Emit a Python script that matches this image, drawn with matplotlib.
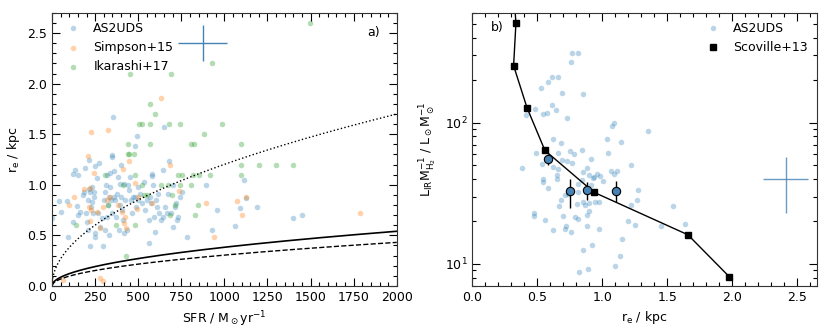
import numpy as np
import matplotlib
matplotlib.use("Agg")
import matplotlib.pyplot as plt
from matplotlib.ticker import MultipleLocator

# panel a) AS2UDS
sfr_as2 = [0, 42, 50, 89, 95, 123, 133, 121, 148, 145, 149, 164, 180, 183, 193, 199, 203, 206, 208, 212,
           214, 218, 222, 226, 232, 232, 237, 241, 245, 247, 247, 251, 259, 270, 264,
           280, 290, 293, 299, 309, 309, 315, 318, 318, 322, 328, 328, 334, 338, 342, 347, 347, 349, 353,
           357, 361, 367, 372, 376, 380, 386, 392, 396, 400, 403, 405, 411, 415, 419, 425, 434, 438, 444,
           454, 458, 463, 469, 482, 482, 488, 492, 496, 501,
           511, 521, 531, 540, 550, 561, 565, 569, 573, 581, 581, 585, 592, 598, 604, 611, 617, 623, 631,
           641, 646, 650, 656, 666, 671, 681, 689, 701, 704, 714, 720, 724, 733, 743, 752, 781,
           895, 926, 958, 1063, 1088, 1115, 1125, 1192, 1398, 1452]
re_as2 = [0.67, 0.84, 0.73, 0.84, 0.48, 0.63, 1.15, 1.11, 1.10, 0.79, 0.70, 0.73, 0.90, 0.93, 1.17, 0.72, 0.63, 0.55, 0.85, 1.25,
          0.96, 0.39, 0.93, 0.78, 0.98, 0.83, 0.72, 0.88, 0.93, 1.19, 0.48, 0.52, 1.07, 1.22, 0.72,
          0.58, 0.67, 0.39, 0.85, 0.93, 0.55, 1.00, 1.10, 0.68, 0.80, 0.50, 0.88, 1.12, 0.98, 0.85, 1.29, 1.27, 0.72, 1.67,
          0.88, 1.14, 0.85, 0.68, 0.91, 1.08, 0.55, 0.80, 1.01, 1.20, 0.88, 0.75, 0.65, 0.52, 1.01, 0.85, 0.55, 1.00, 0.95,
          1.08, 0.85, 0.72, 0.88, 1.38, 0.88, 0.78, 1.48, 0.98, 0.85,
          0.91, 0.82, 1.03, 0.75, 0.85, 0.42, 0.65, 0.88, 0.82, 1.11, 1.09, 1.00, 0.68, 0.53, 0.85, 0.78, 0.91, 0.72, 0.65,
          1.15, 0.68, 1.57, 0.78, 0.72, 0.91, 1.24, 0.72, 0.58, 1.00, 0.78, 0.82, 0.65, 0.68, 0.88, 0.93, 0.48,
          1.00, 0.55, 0.75, 0.59, 0.77, 1.05, 0.87, 0.78, 0.67, 0.70]

# Simpson+15
sfr_sim = [634, 322, 224, 208, 449, 245, 411, 684, 480, 125, 96, 187, 218, 316, 334, 212, 228, 260, 293, 380,
           407, 425, 415, 428, 280, 222, 498, 494, 579, 737, 895, 1076, 1101, 1126, 937, 1784, 276, 295, 62]
re_sim = [1.86, 1.54, 1.52, 1.28, 1.24, 1.12, 1.16, 1.20, 1.02, 0.88, 0.80, 0.96, 0.97, 0.85, 0.88, 0.78, 0.75, 0.73, 0.78, 0.80,
          0.73, 0.68, 0.62, 0.57, 0.57, 0.64, 0.88, 0.76, 0.82, 0.94, 0.82, 0.84, 0.70, 0.88, 0.48, 0.72, 0.08, 0.05, 0.06]

# Ikarashi+17
sfr_ika = [1499, 930, 453, 690, 571, 600, 503, 521, 571, 681, 742, 989, 879,
           442, 571, 806, 821, 1099, 438, 446, 473,
           305, 480, 729, 752, 820, 852, 918, 1099, 1099, 1200, 1298, 1398,
           411, 521, 633, 671, 742, 808, 532, 552, 698, 322, 712, 849, 684, 829, 141, 372, 480, 430]
re_ika = [2.60, 2.20, 2.10, 2.10, 1.80, 1.70, 1.60, 1.60, 1.60, 1.60, 1.60, 1.60, 1.50,
          1.40, 1.40, 1.40, 1.40, 1.40, 1.30, 1.30, 1.30,
          1.10, 1.10, 1.10, 1.10, 1.10, 1.10, 1.10, 1.10, 1.20, 1.20, 1.20, 1.20,
          1.00, 1.00, 1.00, 1.00, 1.00, 1.00, 0.90, 0.90, 0.90, 0.80, 0.80, 0.80, 0.70, 0.70, 0.60, 0.60, 0.60, 0.30]

# model curves: r_e at SFR = 2000 (r ~ SFR^0.5)
r2000_solid = 0.54
r2000_dashed = 0.43
r2000_dotted = 1.70

# typical error, panel a
err_a = (874, 2.40, 143, 0.18)

# panel b) AS2UDS
re_b = [0.769, 0.815, 0.756, 0.854, 0.615, 0.659, 0.582, 0.526, 0.692, 0.610, 0.479, 0.641, 0.572, 0.546, 0.415,
        0.731, 1.072, 1.092, 1.351, 1.036, 0.623, 0.685, 1.146, 0.490, 0.659, 0.751, 0.782, 0.846, 1.044, 0.910,
        0.536, 0.692, 0.731, 0.769, 1.223, 0.385, 0.623, 0.656, 0.879, 0.851, 1.064, 1.110, 1.090, 0.546, 0.649,
        0.654, 0.544, 0.579, 0.936, 0.928, 0.897, 0.962, 0.985, 1.005, 0.844, 0.915, 0.810, 0.879, 0.710, 0.736,
        0.813, 0.926, 1.277, 0.679, 0.854, 0.808, 0.864, 0.895, 0.941, 0.974, 0.667, 1.221, 1.264, 1.544, 0.882,
        0.900, 0.474, 0.474, 0.697, 0.792, 0.810, 0.556, 1.195, 1.249, 1.636, 1.451, 0.723, 0.710, 0.885, 0.974,
        0.620, 0.759, 1.154, 0.923, 0.849, 1.133, 1.095, 0.892, 0.823]
lir_b = [310, 314, 268, 159, 210, 210, 196, 176, 163, 134, 126, 124, 117, 115, 113,
         108, 94.6, 98.9, 87.7, 77, 77, 72, 73, 61, 61.6, 62.7, 60.5, 64, 61, 55.8,
         51, 54.3, 53.7, 52.3, 50.4, 47.7, 49, 47.4, 48, 44.9, 45.4, 45.9, 43.2, 40.1, 42.8,
         39.7, 37.8, 34.8, 41.4, 40.7, 42.8, 43.7, 42.3, 38.4, 39.2, 36.1, 36.9, 34.6, 30.8, 31.4,
         32.2, 31.7, 33.3, 28.3, 27.7, 26.8, 26.2, 27.1, 27.7, 27.3, 25.9, 26.2, 28.6, 25.9, 22.3,
         23.8, 22.8, 22.0, 21.8, 21.5, 20.8, 20.5, 20.3, 19.0, 19.3, 18.7, 18.5, 17.8, 18.7, 17.7,
         17.3, 16.9, 15.0, 13.7, 12.6, 11.3, 9.68, 9.17, 8.73]

# binned medians
re_med = [0.579, 0.751, 0.885, 1.108]
lir_med = [55.2, 33.0, 33.2, 33.0]
lir_lo = [5, 7.9, 4.6, 5.3]
lir_hi = [5, 7.3, 4.8, 5.5]

# Scoville+13
re_sco = [0.31, 0.336, 0.318, 0.421, 0.559, 0.936, 1.659, 1.977]
lir_sco = [1100, 509, 254, 128, 63.7, 32.2, 16.1, 8.13]

# typical error, panel b
err_b = (2.41, 39.8, 0.172, 16.8, 17.0)

plt.rcParams['font.size'] = 9
plt.rcParams['mathtext.default'] = 'regular'
blue = '#4682b4'

fig = plt.figure(figsize=(8.3, 3.32), dpi=100)
ax1 = fig.add_axes([0.0627, 0.139, 0.4153, 0.822])
ax2 = fig.add_axes([0.569, 0.139, 0.415, 0.822])

ax1.scatter(sfr_as2, re_as2, s=16, color='tab:blue', alpha=0.3, lw=0, label='AS2UDS')
ax1.scatter(sfr_sim, re_sim, s=16, color='tab:orange', alpha=0.35, lw=0, label='Simpson+15')
ax1.scatter(sfr_ika, re_ika, s=16, color='tab:green', alpha=0.35, lw=0, label='Ikarashi+17')

x = np.linspace(0, 2000, 500)
ax1.plot(x, r2000_solid * np.sqrt(x / 2000), 'k-', lw=1.2)
ax1.plot(x, r2000_dashed * np.sqrt(x / 2000), 'k--', lw=1.0)
ax1.plot(x, r2000_dotted * np.sqrt(x / 2000), 'k:', lw=1.0)

ax1.errorbar(err_a[0], err_a[1], xerr=err_a[2], yerr=err_a[3], color=blue, lw=1.0)
ax1.text(1830, 2.47, 'a)', fontsize=9)

ax1.set_xlim(0, 2000)
ax1.set_ylim(0, 2.7)
ax1.xaxis.set_major_locator(MultipleLocator(250))
ax1.xaxis.set_minor_locator(MultipleLocator(50))
ax1.yaxis.set_major_locator(MultipleLocator(0.5))
ax1.yaxis.set_minor_locator(MultipleLocator(0.1))
ax1.set_xlabel(r'SFR / M$_\odot$yr$^{-1}$')
ax1.set_ylabel(r'r$_e$ / kpc')
ax1.legend(loc='upper left', frameon=False, handletextpad=0.6, borderaxespad=0.3)

ax2.scatter(re_b, lir_b, s=16, color='tab:blue', alpha=0.3, lw=0, label='AS2UDS')
ax2.plot(re_sco, lir_sco, 'k-', lw=1.0)
ax2.plot(re_sco, lir_sco, 'ks', ms=4.5, ls='none', label='Scoville+13')
ax2.errorbar(re_med, lir_med, yerr=[lir_lo, lir_hi], fmt='o', ms=6, mfc=blue, mec='k',
             mew=0.8, ecolor='k', elinewidth=1.0, capsize=0)
ax2.errorbar(err_b[0], err_b[1], xerr=err_b[2], yerr=[[err_b[3]], [err_b[4]]], color=blue, lw=1.0, alpha=0.8)
ax2.text(0.14, 450, 'b)', fontsize=9)

ax2.set_yscale('log')
ax2.set_xlim(0, 2.65)
ax2.set_ylim(7, 600)
ax2.xaxis.set_major_locator(MultipleLocator(0.5))
ax2.xaxis.set_minor_locator(MultipleLocator(0.1))
ax2.set_xlabel(r'r$_e$ / kpc')
ax2.set_ylabel(r'L$_{IR}$M$_{H_2}^{-1}$ / L$_\odot$M$_\odot^{-1}$')
ax2.legend(loc='upper right', frameon=False, handletextpad=0.6, borderaxespad=0.3)

for ax in (ax1, ax2):
    ax.tick_params(which='both', direction='in', top=True, right=True, width=0.8)
    ax.tick_params(which='major', length=5.5)
    ax.tick_params(which='minor', length=3)
    for sp in ax.spines.values():
        sp.set_color('#333333')

fig.savefig('out.png', dpi=100)
